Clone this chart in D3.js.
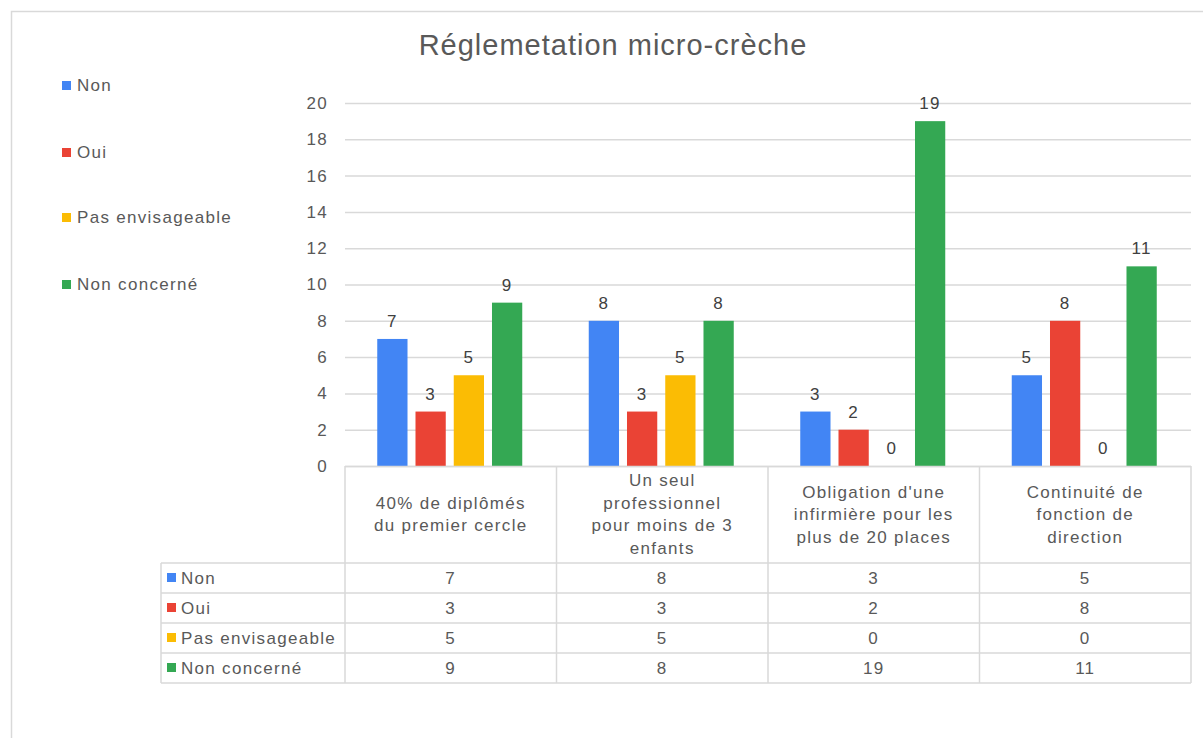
<!DOCTYPE html>
<html><head><meta charset="utf-8">
<script src="https://cdn.jsdelivr.net/npm/d3@7"></script>
<style>body{margin:0;background:#fff}
svg text{font-family:"Liberation Sans",Arial,sans-serif;letter-spacing:1.3px}</style>
</head><body>
<svg id="c" width="1203" height="738"></svg>
<script>
const categories = [
  ["40% de diplômés","du premier cercle"],
  ["Un seul","professionnel","pour moins de 3","enfants"],
  ["Obligation d'une","infirmière pour les","plus de 20 places"],
  ["Continuité de","fonction de","direction"]
];
const seriesNames = ["Non","Oui","Pas envisageable","Non concerné"];
const seriesColors = ["#4285F4","#EA4335","#FBBC04","#34A853"];
const valNon = [7,8,3,5];
const valOui = [3,3,2,8];
const valPas = [5,5,0,0];
const valNonConcerne = [9,8,19,11];
const yTicks = [0,2,4,6,8,10,12,14,16,18,20];
const series = [valNon,valOui,valPas,valNonConcerne];

const svg = d3.select("#c");
const txt = "#595959", grid = "#d9d9d9";
const fs = 17;

// chart border
svg.append("path").attr("d","M11.5,738 V11.5 H1203").attr("fill","none").attr("stroke","#d9d9d9").attr("stroke-width",1.5);

svg.append("text").attr("x",613).attr("y",55).attr("text-anchor","middle")
  .attr("font-size",29).attr("fill",txt).style("letter-spacing","1px").text("Réglemetation micro-crèche");

const x0 = d3.scaleBand().domain(d3.range(categories.length)).range([345,1191]);
const y = d3.scaleLinear().domain([0,20]).range([466,103]);

// grid
svg.append("g").selectAll("line").data(yTicks).join("line")
  .attr("x1",345).attr("x2",1191).attr("y1",d=>y(d)+0.5).attr("y2",d=>y(d)+0.5)
  .attr("stroke",grid).attr("stroke-width",1.5);

const yAxis = d3.axisLeft(y).tickValues(yTicks).tickSize(0).tickPadding(0);
const ya = svg.append("g").attr("transform","translate(328,0)").call(yAxis);
ya.select(".domain").remove();
ya.selectAll("text").attr("font-size",fs).attr("fill",txt).attr("font-family",null);

const groupW = 145;
const x1 = d3.scaleBand().domain(d3.range(4)).range([0, groupW]).paddingInner(8/38.3).paddingOuter(0);

categories.forEach((c,ci)=>{
  const cx = x0(ci) + x0.bandwidth()/2;
  const gx = cx - groupW/2 - 1;
  series.forEach((s,si)=>{
    const v = s[ci];
    const bx = gx + x1(si);
    if (v>0) svg.append("rect").attr("x",bx).attr("y",y(v)).attr("width",x1.bandwidth())
      .attr("height",y(0)-y(v)).attr("fill",seriesColors[si]);
    svg.append("text").attr("x",bx+x1.bandwidth()/2).attr("y",y(v)-12)
      .attr("text-anchor","middle").attr("font-size",fs).attr("fill","#404040").text(v);
  });
});

// table
const rowTop = 563, rowH = 30, tLeft = 161;
const lineAttrs = s => s.attr("stroke",grid).attr("stroke-width",1.5);
lineAttrs(svg.append("line").attr("x1",345).attr("x2",1191).attr("y1",466.5).attr("y2",466.5));
[0,1,2,3,4].forEach(i=>{
  const xx = i<4 ? x0(i) : 1191;
  lineAttrs(svg.append("line").attr("x1",xx).attr("x2",xx).attr("y1",466).attr("y2",rowTop+4*rowH));
});
lineAttrs(svg.append("line").attr("x1",tLeft).attr("x2",tLeft).attr("y1",rowTop).attr("y2",rowTop+4*rowH));
for(let r=0;r<=4;r++){
  lineAttrs(svg.append("line").attr("x1",tLeft).attr("x2",1191).attr("y1",rowTop+r*rowH).attr("y2",rowTop+r*rowH));
}
categories.forEach((lines,ci)=>{
  const cx = x0(ci)+x0.bandwidth()/2;
  const lh = 22.5;
  const mid = 514;
  const t = svg.append("text").attr("text-anchor","middle").attr("font-size",fs).attr("fill",txt);
  lines.forEach((l,li)=>{
    t.append("tspan").attr("x",cx).attr("y",mid + (li-(lines.length-1)/2)*lh + 6).text(l);
  });
});
seriesNames.forEach((n,si)=>{
  const yy = rowTop + si*rowH;
  svg.append("rect").attr("x",167).attr("y",yy+10).attr("width",9).attr("height",9).attr("fill",seriesColors[si]);
  svg.append("text").attr("x",181).attr("y",yy+21).attr("font-size",fs).attr("fill",txt).text(n);
  series[si].forEach((v,ci)=>{
    svg.append("text").attr("x",x0(ci)+x0.bandwidth()/2).attr("y",yy+21).attr("text-anchor","middle")
      .attr("font-size",fs).attr("fill",txt).text(v);
  });
});

// left legend
const legY = [85,152,217,284];
seriesNames.forEach((n,si)=>{
  svg.append("rect").attr("x",62).attr("y",legY[si]-4).attr("width",9).attr("height",9).attr("fill",seriesColors[si]);
  svg.append("text").attr("x",77).attr("y",legY[si]+6).attr("font-size",fs).attr("fill",txt).text(n);
});
</script>
</body></html>
